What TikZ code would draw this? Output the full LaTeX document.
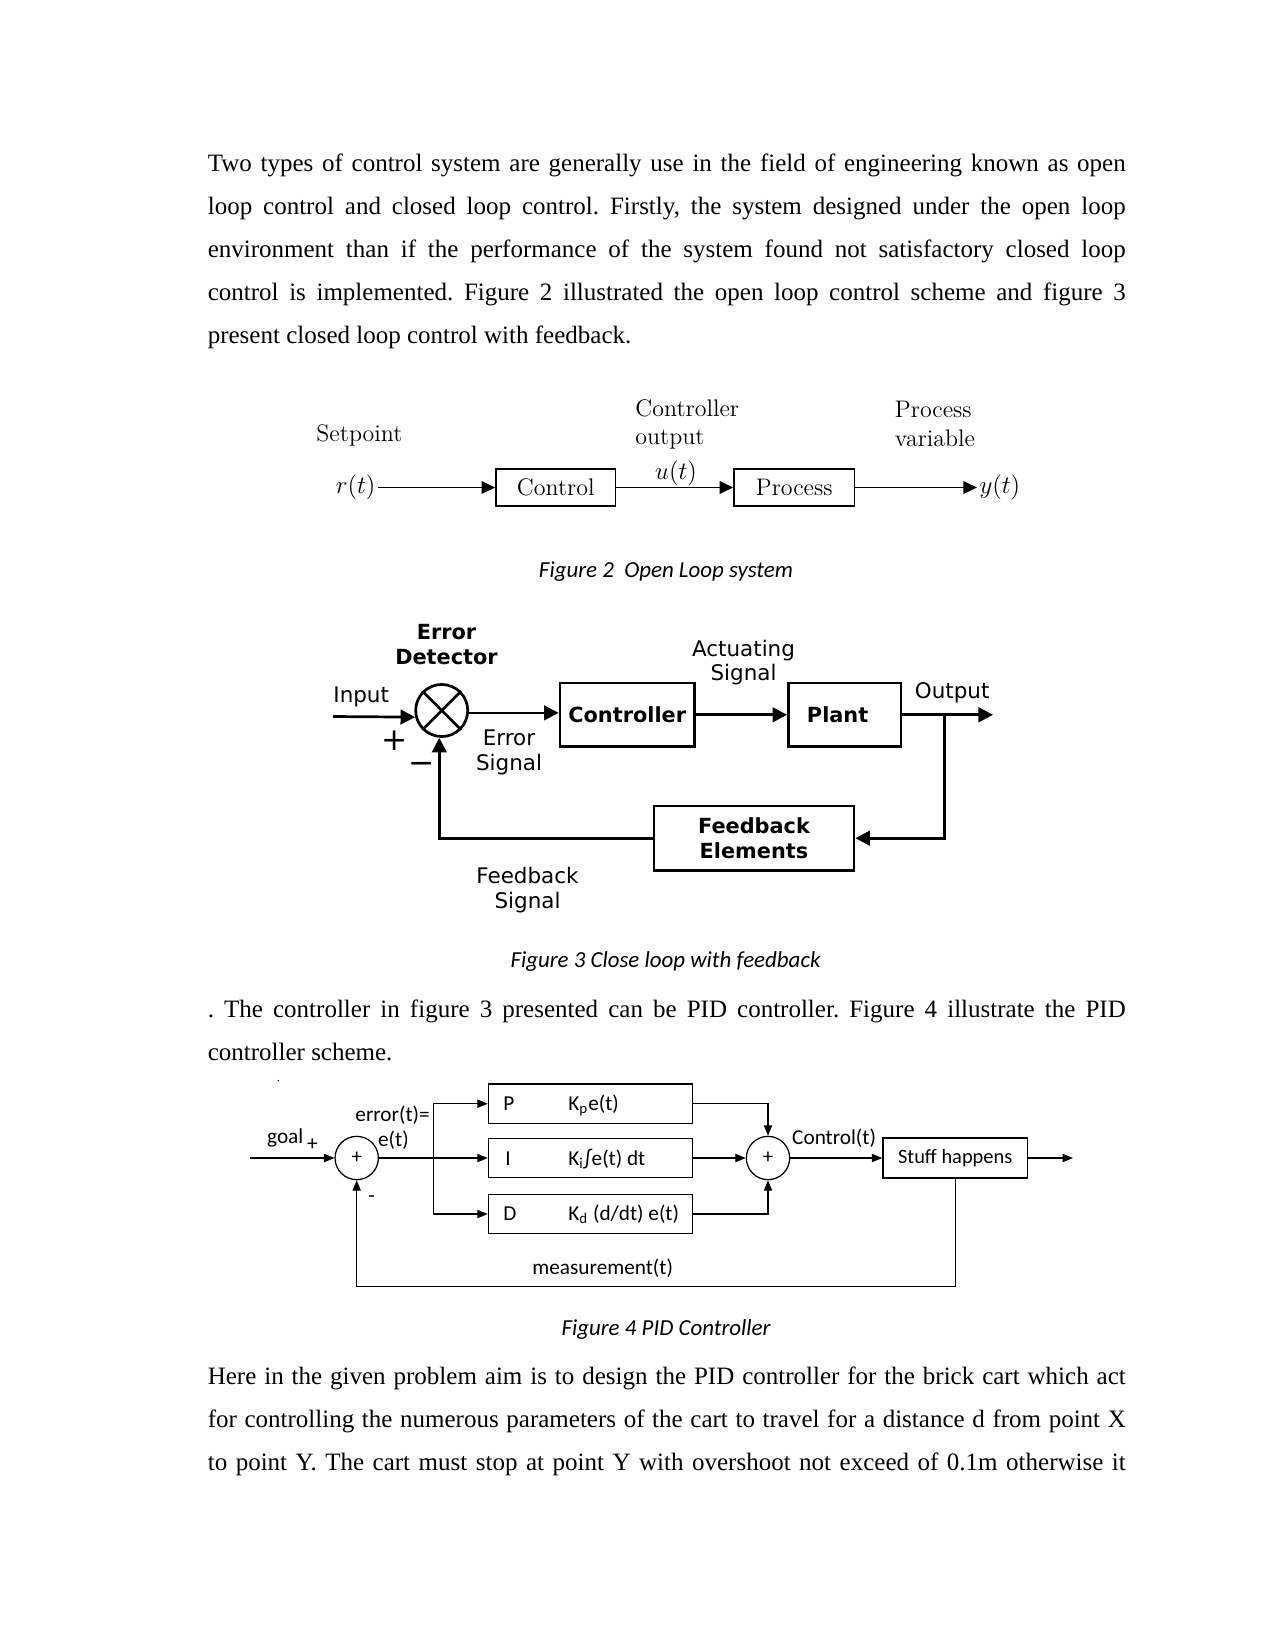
\documentclass[tikz,border=0pt]{standalone}
\usepackage{fontspec}
\setmainfont{Liberation Serif}
\newfontfamily\carl{Carlito}
\newfontfamily\dvs{DejaVu Sans}
\usetikzlibrary{arrows.meta}
\newcommand\jline[3]{\node[body] (#1) at (207.4,#2) {\makebox[440.6pt][s]{#3}};}
\newcommand\lline[3]{\node[body] (#1) at (207.4,#2) {#3};}
\begin{document}
\begin{tikzpicture}[x=0.48pt,y=-0.48pt,
  body/.style={anchor=base west,inner sep=0pt,font=\fontsize{12}{14}\selectfont\frenchspacing},
  figcap/.style={inner sep=0pt,font=\carl\itshape\fontsize{11}{13}\selectfont},
  ftwo/.style={inner sep=0pt,font=\fontfamily{lmr}\fontsize{11.5}{13}\selectfont},
  box2/.style={draw,line width=0.8pt,inner sep=0pt,minimum height=17.8pt,font=\fontfamily{lmr}\fontsize{11.5}{13}\selectfont},
  a2/.style={-{Triangle[length=6.5pt,width=6pt]},line width=0.8pt},
  f3/.style={inner sep=0pt,anchor=base,font=\dvs\fontsize{10.3}{12}\selectfont},
  f3b/.style={inner sep=0pt,anchor=base,font=\dvs\bfseries\fontsize{10}{12}\selectfont},
  sign/.style={inner sep=0pt,font=\dvs\fontsize{15}{15}\selectfont},
  box3/.style={draw,line width=1.3pt,inner sep=0pt,minimum height=30.5pt,font=\dvs\bfseries\fontsize{10}{12}\selectfont},
  circ3/.style={draw,circle,line width=1.3pt,inner sep=0pt,minimum size=25pt},
  l3/.style={line width=1.3pt},
  a3/.style={-{Triangle[length=7pt,width=7pt]},line width=1.3pt},
  f4/.style={inner sep=0pt,anchor=base west,font=\carl\fontsize{10.2}{12}\selectfont},
  box4/.style={draw,line width=0.6pt,inner sep=0pt,minimum width=98.1pt,minimum height=19pt,font=\carl\fontsize{10.2}{12}\selectfont},
  circ4/.style={draw,circle,line width=0.6pt,inner sep=0pt,minimum size=20.8pt,font=\carl\fontsize{10}{12}\selectfont},
  a4/.style={-{Triangle[length=5pt,width=4pt]},line width=0.5pt}
]
\fill[white] (0,0) rectangle (1275,1651);
\useasboundingbox (0,0) rectangle (1275,1651);

% ---------- paragraph 1 ----------
\jline{p1}{171.5}{Two types of control system are generally use in the field of engineering known as open}
\jline{p2}{214.6}{loop control and closed loop control. Firstly, the system designed under the open loop}
\jline{p3}{257.7}{environment than if the performance of the system found not satisfactory closed loop}
\jline{p4}{300.8}{control is implemented. Figure 2 illustrated the open loop control scheme and figure 3}
\lline{p5}{343.9}{present closed loop control with feedback.}

% ---------- figure 2 ----------
\node[box2,minimum width=57.3pt] (ctrl) at (555.7,487.5) {Control};
\node[box2,minimum width=57.8pt] (proc) at (794.2,487.5) {Process};
\node[ftwo,anchor=east,inner sep=1pt] (rt) at (378,487.5) {$r(t)$};
\node[ftwo,anchor=west,inner sep=1pt] (yt) at (977,487.5) {$y(t)$};
\node[ftwo] (ut) at (676,473) {$u(t)$};
\draw[a2] (rt.east) -- (ctrl.west);
\draw[a2] (ctrl.east) -- (proc.west);
\draw[a2] (proc.east) -- (yt.west);
\node[ftwo,anchor=base west] (sp) at (316,441.5) {Setpoint};
\node[ftwo,anchor=base west] (co1) at (635,416) {Controller};
\node[ftwo,anchor=base west] (co2) at (635,444.5) {output};
\node[ftwo,anchor=base west] (pv1) at (894.5,417) {Process};
\node[ftwo,anchor=base west] (pv2) at (894.5,446) {variable};
\node[figcap] (c2) at (666,571.5) {Figure 2~~Open Loop system};

% ---------- figure 3 ----------
\node[circ3] (det) at (441.7,710.5) {};
\draw[l3] (det.45) -- (det.225) (det.135) -- (det.315);
\node[f3b] (ed1) at (446.5,639.5) {Error};
\node[f3b] (ed2) at (446.5,664.5) {Detector};
\node[f3,anchor=base west] (inp) at (333,702.5) {Input};
\coordinate (inS) at (333,716.5);
\draw[a3] (inS) -- (det.194);
\node[sign] (plus) at (395,741) {+};
\node[sign] (minus) at (421.7,768) {−};
\node[box3,minimum width=64.5pt] (ctrl3) at (627.2,714.8) {Controller};
\node[box3,minimum width=54pt] (plant) at (844.7,714.8) {Plant\kern6.8pt};
\node[box3,minimum width=96pt,minimum height=30.9pt,align=center] (fb) at (754,838.2) {Feedback\\Elements};
\draw[a3] (det.355) -- (det.355 -| ctrl3.west);
\draw[a3] (ctrl3.east) -- (plant.west);
\coordinate (outE) at (993,714.8);
\coordinate (br3) at (944.5,714.8);
\draw[a3] (plant.east) -- (outE);
\draw[a3] (br3) |- (fb.east);
\draw[a3] (fb.west) -| (det.265);
\node[f3] (act1) at (743.5,656) {Actuating};
\node[f3] (act2) at (743.5,680) {Signal};
\node[f3,anchor=base west] (outp) at (914.5,698) {Output};
\node[f3] (es1) at (509,745) {Error};
\node[f3] (es2) at (509,770) {Signal};
\node[f3] (fs1) at (527.5,883.3) {Feedback};
\node[f3] (fs2) at (527.5,908.3) {Signal};
\node[figcap] (c3) at (665.5,961) {Figure 3 Close loop with feedback};

% ---------- paragraph 2 ----------
\jline{q1}{1017.5}{. The controller in figure 3 presented can be PID controller. Figure 4 illustrate the PID}
\lline{q2}{1060.6}{controller scheme.}

% ---------- figure 4 ----------
\fill (278.3,1080.7) circle[radius=0.8];
\node[f4] (goal) at (266.7,1143.3) {goal};
\node[f4,anchor=center] (gp) at (312.3,1144.5) {+};
\node[circ4] (s1) at (356.7,1158) {+};
\node[f4,anchor=center] (mn) at (371.7,1199) {-};
\node[f4] (er1) at (355,1121.7) {error(t)=};
\node[f4] (er2) at (377.7,1146.7) {e(t)};
\coordinate (gin) at (250,1158);
\draw[a4] (gin) -- (s1.west);
\node[box4] (P) at (590.5,1103.7) {};
\node[box4] (I) at (590.5,1158) {};
\node[box4] (D) at (590.5,1214) {};
\node[f4] (Pl) at (503,1110.7) {P};
\node[f4] (Pt) at (568,1110.7) {K\textsubscript{p}e(t)};
\node[f4] (Il) at (505,1165) {I};
\node[f4] (It) at (568,1165) {K\textsubscript{i}∫e(t) dt};
\node[f4] (Dl) at (503,1220.7) {D};
\node[f4] (Dt) at (568,1220.7) {K\textsubscript{d} (d/dt) e(t)};
\coordinate (b4) at (433.5,1158);
\draw[a4] (s1.east) -- (I.west);
\draw[a4] (b4) |- (P.west);
\draw[a4] (b4) |- (D.west);
\node[circ4] (s2) at (768,1158) {+};
\draw[a4] (P.east) -| (s2.north);
\draw[a4] (I.east) -- (s2.west);
\draw[a4] (D.east) -| (s2.south);
\node[box4,minimum width=69.4pt,minimum height=19.2pt,font=\carl\fontsize{9.8}{12}\selectfont] (SH) at (955.2,1158) {Stuff happens};
\draw[a4] (s2.east) -- (SH.west);
\coordinate (yo) at (1073,1158);
\draw[a4] (SH.east) -- (yo);
\coordinate (m1) at (955.2,1286.5);
\draw[a4] (SH.south) -- (m1) -| (s1.south);
\node[f4] (ct) at (791.8,1144) {Control(t)};
\node[f4] (meas) at (532,1274) {measurement(t)};
\node[figcap] (c4) at (666,1329.6) {Figure 4 PID Controller};

% ---------- paragraph 3 ----------
\jline{r1}{1384.5}{Here in the given problem aim is to design the PID controller for the brick cart which act}
\jline{r2}{1427.6}{for controlling the numerous parameters of the cart to travel for a distance d from point X}
\jline{r3}{1470.7}{to point Y. The cart must stop at point Y with overshoot not exceed of 0.1m otherwise it}
\end{tikzpicture}
\end{document}
